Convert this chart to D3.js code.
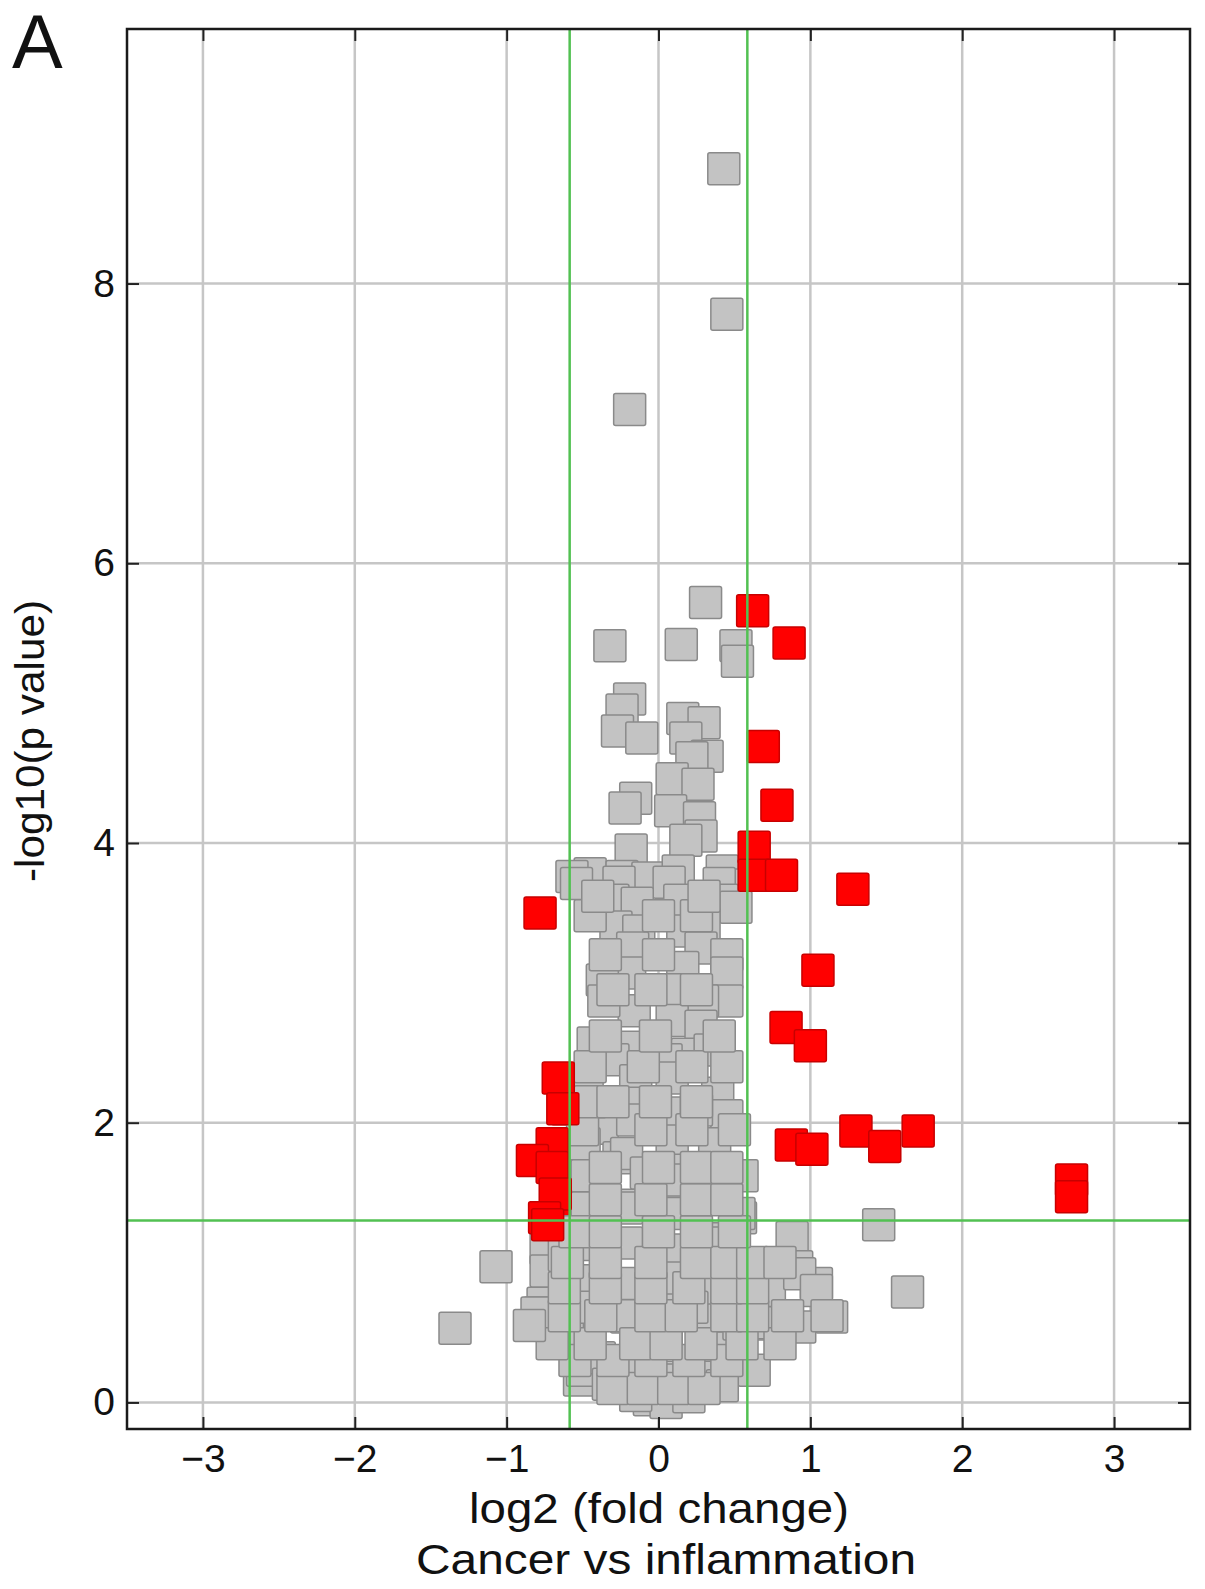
<!DOCTYPE html>
<html>
<head>
<meta charset="utf-8">
<style>
  body { margin: 0; background: #fff; }
  text { font-family: "Liberation Sans", Arial, sans-serif; fill: #111; }
</style>
<script src="https://d3js.org/d3.v7.min.js"></script>
</head>
<body>
<script>
// tick values
var xTicks = [-3, -2, -1, 0, 1, 2, 3];
var yTicks = [0, 2, 4, 6, 8];

// cut-offs: fold change 1.5 (log2 = +/-0.585) and p = 0.05
var fcCut = [-0.585, 0.585];
var pCut = 1.301;

// not significant proteins (grey)
var greyFC = [0.43, 0.45, -0.19, 0.31,
  -0.32, 0.15, 0.51, 0.52, -0.19, -0.24, -0.27, -0.11, 0.16, 0.30, 0.18, 0.32, 0.22, 0.09, 0.26, -0.15,
  -0.22, 0.08, 0.27, 0.28, 0.18, -0.18, -0.45, -0.57, -0.24, -0.07, 0.13, 0.42, 0.50,
  -0.54, -0.26, 0.07, 0.40, -0.30, -0.14, 0.14, 0.42, 0.51, -0.28, -0.13, 0.16, 0.30, -0.17, 0.28, 0.45,
  0.16, -0.19, -0.37, 0.45, 0.09, 0.45, 0.29, -0.16, -0.36, 0.09, 0.28, -0.43, -0.20, 0.19, 0.34, -0.30,
  0.05, -0.15, 0.09, 0.39, -0.47, -0.17, 0.09, 0.45, -0.37, 0.25,
  -0.37, -0.17, 0.09, 0.37, -0.49, -0.26, -0.47, -0.06, 0.15, 0.38, 0.55, 0.12, -0.19, 0.14, -0.47, 0.54,
  0.38, -0.21, -0.47, 0.12, -0.72, -0.49, -0.19, 0.32, 0.49, 0.09, 0.88, 0.91, 0.73, 1.04, -1.07, -0.76,
  -0.21, -0.08, 0.14, -0.21, 0.53, -0.74, 0.14, 0.38, 1.45, -0.74, 0.07, 0.34, 0.53, 0.93, 1.04, 1.64,
  -0.78, -0.52, -0.21, 0.03, 0.34, 0.71, 0.93, 1.14, -0.41, -0.21, 0.14, 0.38, -0.52,
  -0.80, -0.60, -0.47, -0.19, 0.05, 0.22, 0.38, 0.53, 0.71, 1.11, -0.50, -0.22, 0.14, -0.06, -0.39, 0.63,
  0.32, 0.05, -0.15, 0.20, -0.33, 0.42, -1.34, -0.62,
  -0.30, -0.10, 0.10, 0.30,
  -0.55, -0.30, -0.05, 0.20, 0.45,
  -0.70, -0.45, -0.15, 0.05, 0.28, 0.55, 0.80,
  -0.62, -0.38, -0.05, 0.15, 0.45, 0.62, 0.85,
  -0.62, -0.35, -0.05, 0.20, 0.45, 0.62,
  -0.60, -0.35, -0.05, 0.25, 0.45, 0.62, 0.80,
  -0.55, -0.35, 0.00, 0.25, 0.50,
  -0.35, -0.05, 0.25, 0.45,
  -0.35, 0.00, 0.25, 0.45,
  -0.50, -0.05, 0.22, 0.50,
  -0.45, -0.30, -0.02, 0.25,
  -0.45, -0.10, 0.22, 0.45,
  -0.35, -0.02, 0.40,
  -0.30, -0.05, 0.25,
  -0.35, 0.00,
  -0.45, 0.00, 0.25,
  -0.40, 0.30, -0.85];
var greyP = [8.82, 7.78, 7.10, 5.72,
  5.41, 5.42, 5.41, 5.30, 5.03, 4.95, 4.80, 4.75, 4.89, 4.86, 4.75, 4.62, 4.61, 4.46, 4.42, 4.32,
  4.25, 4.23, 4.18, 4.05, 4.02, 3.95, 3.78, 3.76, 3.76, 3.75, 3.80, 3.80, 3.70,
  3.71, 3.72, 3.72, 3.71, 3.59, 3.57, 3.59, 3.59, 3.54, 3.40, 3.37, 3.37, 3.42, 3.25, 3.25, 3.20,
  3.11, 3.07, 3.02, 3.07, 2.95, 2.87, 2.87, 2.80, 2.87, 2.73, 2.69, 2.57, 2.54, 2.49, 2.52, 2.45,
  2.45, 2.30, 2.32, 2.21, 2.25, 2.14, 2.07, 2.05, 2.04, 2.09,
  1.96, 2.02, 1.87, 1.85, 1.85, 1.75, 1.62, 1.62, 1.66, 1.52, 1.62, 1.52, 1.41, 1.35, 1.39, 1.32,
  1.17, 1.14, 1.13, 1.04, 0.96, 0.87, 0.85, 0.79, 0.79, 0.75, 1.18, 0.97, 0.80, 0.85, 0.97, 0.71,
  1.78, 1.64, 1.59, 1.39, 1.35, 1.10, 1.09, 1.14, 1.27, 0.94, 0.89, 0.78, 0.75, 0.92, 0.80, 0.79,
  0.64, 0.49, 0.61, 0.51, 0.59, 0.56, 0.54, 0.61, 0.28, 0.23, 0.18, 0.37, 0.16,
  0.64, 0.49, 0.68, 0.62, 0.50, 0.68, 0.39, 0.56, 0.57, 0.62, 0.23, 0.23, 0.16, 0.02, 0.32, 0.23,
  0.18, 0.00, 0.05, 0.04, 0.13, 0.12, 0.53, 1.05,
  0.10, 0.10, 0.10, 0.10,
  0.30, 0.30, 0.30, 0.30, 0.30,
  0.42, 0.42, 0.42, 0.42, 0.42, 0.42, 0.42,
  0.62, 0.62, 0.62, 0.62, 0.62, 0.62, 0.62,
  0.82, 0.82, 0.82, 0.82, 0.82, 0.82,
  1.00, 1.00, 1.00, 1.00, 1.00, 1.00, 1.00,
  1.22, 1.22, 1.22, 1.22, 1.22,
  1.45, 1.45, 1.45, 1.45,
  1.68, 1.68, 1.68, 1.68,
  1.95, 1.95, 1.95, 1.95,
  2.15, 2.15, 2.15, 2.15,
  2.40, 2.40, 2.40, 2.40,
  2.62, 2.62, 2.62,
  2.95, 2.95, 2.95,
  3.20, 3.20,
  3.48, 3.48, 3.48,
  3.62, 3.62, 0.55];

// significant proteins (red)
var redFC = [0.62, 0.86, 0.69, 0.78, 0.63, 0.63, 0.81, 1.28, -0.78, 1.05, 0.84, 1.00,
  -0.66, -0.63, -0.60, -0.70, -0.83, -0.70, -0.68, -0.75, -0.60, -0.73,
  0.875, 1.01, 1.30, 1.49, 1.71, 2.72, 2.72];
var redP = [5.66, 5.43, 4.69, 4.27, 3.97, 3.77, 3.77, 3.67, 3.50, 3.09, 2.68, 2.55,
  2.32, 2.10, 2.10, 1.85, 1.73, 1.68, 1.49, 1.32, 1.30, 1.27,
  1.84, 1.81, 1.94, 1.83, 1.94, 1.59, 1.47];

var W = 1205, H = 1589;
var plotL = 127, plotR = 1190, plotT = 29, plotB = 1429;
var box = 32;

var x = d3.scaleLinear().domain([-3.5, 3.5]).range([plotL, plotR]);
var y = d3.scaleLinear().domain([-0.19, 9.82]).range([plotB, plotT]);

var svg = d3.select("body").append("svg")
  .attr("width", W).attr("height", H);

svg.append("rect").attr("width", W).attr("height", H).attr("fill", "#fff");

// grid
var grid = svg.append("g").attr("stroke", "#c6c6c6").attr("stroke-width", 2.5);
grid.selectAll(".gx").data(xTicks).enter().append("line")
  .attr("x1", d => x(d)).attr("x2", d => x(d)).attr("y1", plotT).attr("y2", plotB);
grid.selectAll(".gy").data(yTicks).enter().append("line")
  .attr("y1", d => y(d)).attr("y2", d => y(d)).attr("x1", plotL).attr("x2", plotR);

var grey = greyFC.map((v, i) => ({ fc: v, p: greyP[i], sig: false }));
var red = redFC.map((v, i) => ({ fc: v, p: redP[i], sig: true }));
// the few red ones right at the left cut-off peek out from under the grey cloud
var under = d => d.fc < 0 && d.fc > -0.62;
var points = red.filter(under).concat(grey, red.filter(d => !under(d)));

svg.append("g").selectAll("rect").data(points).enter().append("rect")
  .attr("x", d => x(d.fc) - box / 2)
  .attr("y", d => y(d.p) - box / 2)
  .attr("width", box).attr("height", box)
  .attr("rx", 2)
  .attr("fill", d => d.sig ? "#ff0000" : "#c3c3c3")
  .attr("stroke", d => d.sig ? "#c80000" : "#8a8a8a")
  .attr("stroke-width", 1.5);

// threshold lines
var cut = svg.append("g").attr("stroke", "#52c152").attr("stroke-width", 2.5);
cut.selectAll(".v").data(fcCut).enter().append("line")
  .attr("x1", d => x(d)).attr("x2", d => x(d)).attr("y1", plotT).attr("y2", plotB);
cut.append("line")
  .attr("x1", plotL).attr("x2", plotR).attr("y1", y(pCut)).attr("y2", y(pCut));

// axes with inward ticks
var fmt = d3.format("d");
svg.append("g").attr("transform", "translate(0," + plotB + ")")
  .call(d3.axisBottom(x).tickValues(xTicks).tickFormat(fmt).tickSizeInner(-12).tickSizeOuter(0).tickPadding(15));
svg.append("g").attr("transform", "translate(" + plotL + ",0)")
  .call(d3.axisLeft(y).tickValues(yTicks).tickFormat(fmt).tickSizeInner(-12).tickSizeOuter(0).tickPadding(12));
svg.append("g").attr("transform", "translate(0," + plotT + ")")
  .call(d3.axisTop(x).tickValues(xTicks).tickFormat("").tickSizeInner(-12).tickSizeOuter(0));
svg.append("g").attr("transform", "translate(" + plotR + ",0)")
  .call(d3.axisRight(y).tickValues(yTicks).tickFormat("").tickSizeInner(-12).tickSizeOuter(0));

svg.selectAll(".domain").remove();
svg.selectAll(".tick line").attr("stroke", "#222").attr("stroke-width", 2);
svg.selectAll(".tick text")
  .style("font-family", "'Liberation Sans', Arial, sans-serif")
  .style("font-size", "39px").attr("fill", "#111");

// frame
svg.append("rect")
  .attr("x", plotL).attr("y", plotT)
  .attr("width", plotR - plotL).attr("height", plotB - plotT)
  .attr("fill", "none").attr("stroke", "#1a1a1a").attr("stroke-width", 2.5);

// titles
svg.append("text").attr("x", 659).attr("y", 1523)
  .attr("text-anchor", "middle").style("font-size", "42px")
  .attr("textLength", 380).attr("lengthAdjust", "spacingAndGlyphs")
  .text("log2 (fold change)");
svg.append("text").attr("x", 666).attr("y", 1574)
  .attr("text-anchor", "middle").style("font-size", "42px")
  .attr("textLength", 500).attr("lengthAdjust", "spacingAndGlyphs")
  .text("Cancer vs inflammation");
svg.append("text")
  .attr("transform", "translate(44,741) rotate(-90)")
  .attr("text-anchor", "middle").style("font-size", "40px")
  .attr("textLength", 282).attr("lengthAdjust", "spacingAndGlyphs")
  .text("-log10(p value)");
svg.append("text").attr("x", 12).attr("y", 68)
  .style("font-size", "76px")
  .text("A");
</script>
</body>
</html>
